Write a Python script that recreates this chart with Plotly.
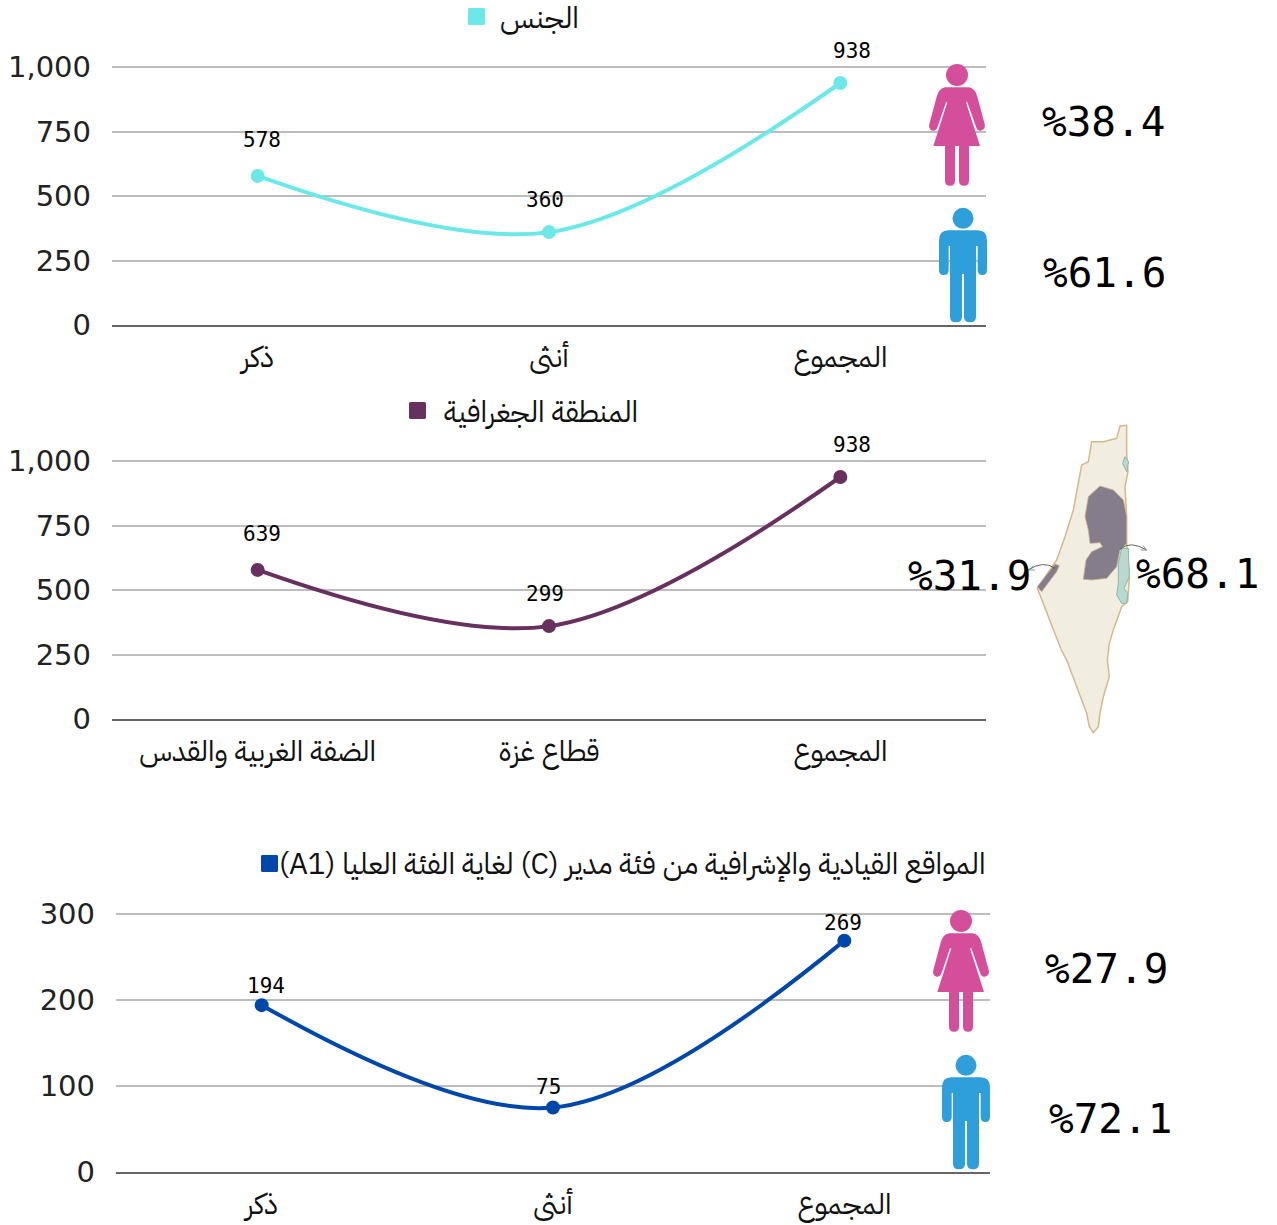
import re
import plotly.graph_objects as go

W, H = 1277, 1225

cats_gender = ["ذكر", "أنثى", "المجموع"]
vals_gender = [578, 360, 938]
labels_gender = ["578", "360", "938"]

cats_region = ["الضفة الغربية والقدس", "قطاع غزة", "المجموع"]
vals_region = [578, 360, 938]
labels_region = ["639", "299", "938"]

cats_lead = ["ذكر", "أنثى", "المجموع"]
vals_lead = [194, 75, 269]
labels_lead = ["194", "75", "269"]

ticks_count = [0, 250, 500, 750, 1000]
ticks_lead = [0, 100, 200, 300]

title_gender = "الجنس"
title_region = "المنطقة الجغرافية"
title_lead = "\u202bالمواقع القيادية والإشرافية من فئة مدير (C) لغاية الفئة العليا (A1)\u202c"

pct_gender = ["%38.4", "%61.6"]
pct_region = ["%31.9", "%68.1"]
pct_lead = ["%27.9", "%72.1"]

C_CYAN, C_PURPLE, C_BLUE = "#6de8e8", "#67315f", "#0047ab"
C_WOMAN, C_MAN = "#d44e9c", "#2f9fdb"
FONT = "IBM Plex Sans Arabic, Noto Sans, DejaVu Sans, sans-serif"
TICK_FONT = "DejaVu Sans"
MONO = "DejaVu Sans Mono"

fig = go.Figure()
shapes, annos = [], []


def px_path(d, ox, oy, s=1.0):
    """Convert 'x,y' pairs (artwork pixels) to paper coordinates."""
    def rep(m):
        x = ox + float(m.group(1)) * s
        y = oy + float(m.group(2)) * s
        return f"{x / W:.5f},{1 - y / H:.5f}"
    return re.sub(r"(-?[\d.]+),(-?[\d.]+)", rep, d)


def add_path(d, ox, oy, s, fill, line=None, lw=0):
    shapes.append(dict(type="path", xref="paper", yref="paper", path=px_path(d, ox, oy, s),
                       fillcolor=fill, line=dict(color=line or "rgba(0,0,0,0)", width=lw), layer="above"))


def add_circle(cx, cy, r, fill):
    shapes.append(dict(type="circle", xref="paper", yref="paper", x0=(cx - r) / W, x1=(cx + r) / W,
                       y0=1 - (cy + r) / H, y1=1 - (cy - r) / H, fillcolor=fill, line=dict(width=0), layer="above"))


WOMAN = ("M 135,112 L 207,112 Q 225,115 232,140 L 254,222 Q 258,238 242,242 Q 232,243 228,230 L 202,157 L 198,157 "
         "L 240,288 L 207,288 L 207,392 Q 207,407 192,407 Q 177,407 177,392 L 177,288 L 165,288 L 165,392 "
         "Q 165,407 150,407 Q 135,407 135,392 L 135,288 L 100,288 L 142,157 L 138,157 L 113,230 Q 108,243 98,242 "
         "Q 84,238 88,222 L 110,140 Q 117,115 135,112 Z")
MAN = ("M 145,541 L 233,541 Q 261,541 261,572 L 261,660 Q 261,675 247,675 Q 233,675 233,660 L 233,588 L 228,588 "
       "L 228,800 Q 228,817 210,817 Q 192,817 192,800 L 192,672 L 186,672 L 186,800 Q 186,817 168,817 "
       "Q 150,817 150,800 L 150,588 L 146,588 L 146,660 Q 146,675 131,675 Q 117,675 117,660 L 117,572 "
       "Q 117,541 145,541 Z")


def woman(dx, dy):
    ox, oy = 900 + dx, 50 + dy
    add_path(WOMAN, ox, oy, 1 / 3, C_WOMAN)
    add_circle(ox + 171 / 3, oy + 75 / 3, 11, C_WOMAN)


def man(dx, dy):
    ox, oy = 900 + dx, 50 + dy
    add_path(MAN, ox, oy, 1 / 3, C_MAN)
    add_circle(ox + 189 / 3, oy + 505 / 3, 10.5, C_MAN)


def pct(text, x, y, size=41):
    annos.append(dict(xref="paper", yref="paper", x=x / W, y=1 - y / H, text=text, showarrow=False,
                      xanchor="center", yanchor="middle", font=dict(family=MONO, size=size, color="#000")))


def panel(i, cats, vals, labels, ticks, ymax, x0, x1, ytop, ybot, color, shifts, title, title_right, title_y, sq):
    xa, ya = ("xaxis", "yaxis") if i == 1 else (f"xaxis{i}", f"yaxis{i}")
    xr, yr = ("x", "y") if i == 1 else (f"x{i}", f"y{i}")
    # two spare pixels above the top tick so that its gridline is still drawn
    span_px = ybot - ytop
    top = ymax * (span_px + 2) / span_px
    fig.add_trace(go.Scatter(x=cats, y=vals, mode="lines+markers", xaxis=xr, yaxis=yr, cliponaxis=False,
                             line=dict(color=color, width=4, shape="spline", smoothing=1),
                             marker=dict(color=color, size=14), showlegend=False, hoverinfo="skip"))
    fig.update_layout({
        xa: dict(domain=[x0 / W, x1 / W], anchor=yr, type="category", categoryorder="array", categoryarray=cats,
                 range=[-0.5, 2.5], showgrid=False, showline=True, linecolor="#666", linewidth=2, zeroline=False,
                 automargin=False, ticks="", ticklabelstandoff=5, tickfont=dict(family=FONT, size=29, color="#111")),
        ya: dict(domain=[1 - ybot / H, 1 - (ytop - 2) / H], anchor=xr, range=[0, top], tickmode="array", tickvals=ticks,
                 ticktext=[f"{t:,}" for t in ticks], showgrid=True, gridcolor="#bdbdbd", gridwidth=1.5,
                 automargin=False, zeroline=False, showline=False, ticks="", ticklabelstandoff=20,
                 tickfont=dict(family=TICK_FONT, size=29, color="#222")),
    })
    for c, v, t, (dx, dy) in zip(cats, vals, labels, shifts):
        annos.append(dict(xref=xr, yref=yr, x=c, y=v, text=t, showarrow=False, xshift=dx, yshift=dy,
                          xanchor="center", yanchor="middle", font=dict(family=MONO, size=21, color="#000")))
    annos.append(dict(xref="paper", yref="paper", x=title_right / W, y=1 - title_y / H, text=title, showarrow=False,
                      xanchor="right", yanchor="middle", font=dict(family=FONT, size=29.5, color="#111")))
    sx, sy, ss = sq
    add_path(f"M {sx + 1.5},{sy} L {sx + ss - 1.5},{sy} Q {sx + ss},{sy} {sx + ss},{sy + 1.5} L {sx + ss},{sy + ss - 1.5} "
             f"Q {sx + ss},{sy + ss} {sx + ss - 1.5},{sy + ss} L {sx + 1.5},{sy + ss} Q {sx},{sy + ss} {sx},{sy + ss - 1.5} "
             f"L {sx},{sy + 1.5} Q {sx},{sy} {sx + 1.5},{sy} Z", 0, 0, 1, color)


panel(1, cats_gender, vals_gender, labels_gender, ticks_count, 1000, 112, 986, 67, 325, C_CYAN,
      [(4, 36), (-4, 32), (12, 32)], title_gender, 581, 18, (468, 8, 17))
panel(2, cats_region, vals_region, labels_region, ticks_count, 1000, 112, 986, 461, 719, C_PURPLE,
      [(4, 36), (-4, 32), (12, 32)], title_region, 640, 412, (409, 402, 17))
panel(3, cats_lead, vals_lead, labels_lead, ticks_lead, 300, 116, 990, 914, 1172, C_BLUE,
      [(4, 19), (-5, 21), (-1, 18)], title_lead, 987, 864, (261, 855, 17))

# pictograms
woman(0, 0)
man(0, 0)
woman(4, 846)
man(3, 847)

pct(pct_gender[0], 1103, 122)
pct(pct_gender[1], 1104, 273)
pct(pct_lead[0], 1106, 969)
pct(pct_lead[1], 1110, 1119)
pct(pct_region[0], 969, 576)
pct(pct_region[1], 1197, 574)

# map artwork
MX, MY, MS = 900, 420, 1 / 3
OUTLINE = ("M 660,18 L 680,16 L 680,100 L 684,155 L 675,200 L 680,290 L 680,370 L 688,470 L 683,545 L 665,560 L 640,630 "
           "L 628,670 L 622,720 L 628,770 L 610,830 L 600,880 L 595,920 L 580,938 L 568,920 L 560,880 L 500,720 L 484,690 "
           "L 412,505 L 470,420 L 495,350 L 520,270 L 545,135 L 565,125 L 575,65 L 610,65 L 650,55 Z")
WBANK = ("M 600,198 L 640,210 L 670,240 L 680,290 L 680,370 L 660,390 L 650,440 L 620,475 L 575,480 L 550,478 L 558,420 "
         "L 575,395 L 607,380 L 600,368 L 570,370 L 565,330 L 555,290 L 565,230 Z")
GAZA = "M 465,432 L 478,437 L 470,455 L 425,515 L 412,500 Z"
DSEA = ("M 665,385 L 685,385 L 688,470 L 672,505 L 683,520 L 680,550 L 665,550 L 650,525 L 655,490 L 655,430 Z")
GALILEE = "M 675,110 L 686,125 L 680,155 L 668,130 Z"
add_path(OUTLINE, MX, MY, MS, "#f1ede0", "#d4b98a", 1.5)
add_path(WBANK, MX, MY, MS, "#857c8c", "#cdb089", 0.8)
add_path(GAZA, MX, MY, MS, "#857c8c", "#cdb089", 0.8)
add_path(DSEA, MX, MY, MS, "#b9d8cf", "#8cb9a8", 1)
add_path(GALILEE, MX, MY, MS, "#b9d8cf", "#8cb9a8", 1)
for arrow, col in [("M 465,445 Q 430,420 385,450", "#555"), ("M 660,388 Q 690,360 740,390", "#555"),
                   ("M 400,438 L 385,450 L 405,450", "#888"), ("M 728,376 L 740,390 L 722,390", "#888")]:
    shapes.append(dict(type="path", xref="paper", yref="paper", path=px_path(arrow, MX, MY, MS),
                       line=dict(color=col, width=0.9), layer="above"))

fig.update_layout(template="none", width=W, height=H, margin=dict(l=0, r=0, t=0, b=0, pad=0, autoexpand=False),
                  paper_bgcolor="white", plot_bgcolor="white",
                  showlegend=False, shapes=shapes, annotations=annos, font=dict(family=FONT))
fig.write_html("out.html", config={"displayModeBar": False},
               post_script="document.body.style.margin='0';")
